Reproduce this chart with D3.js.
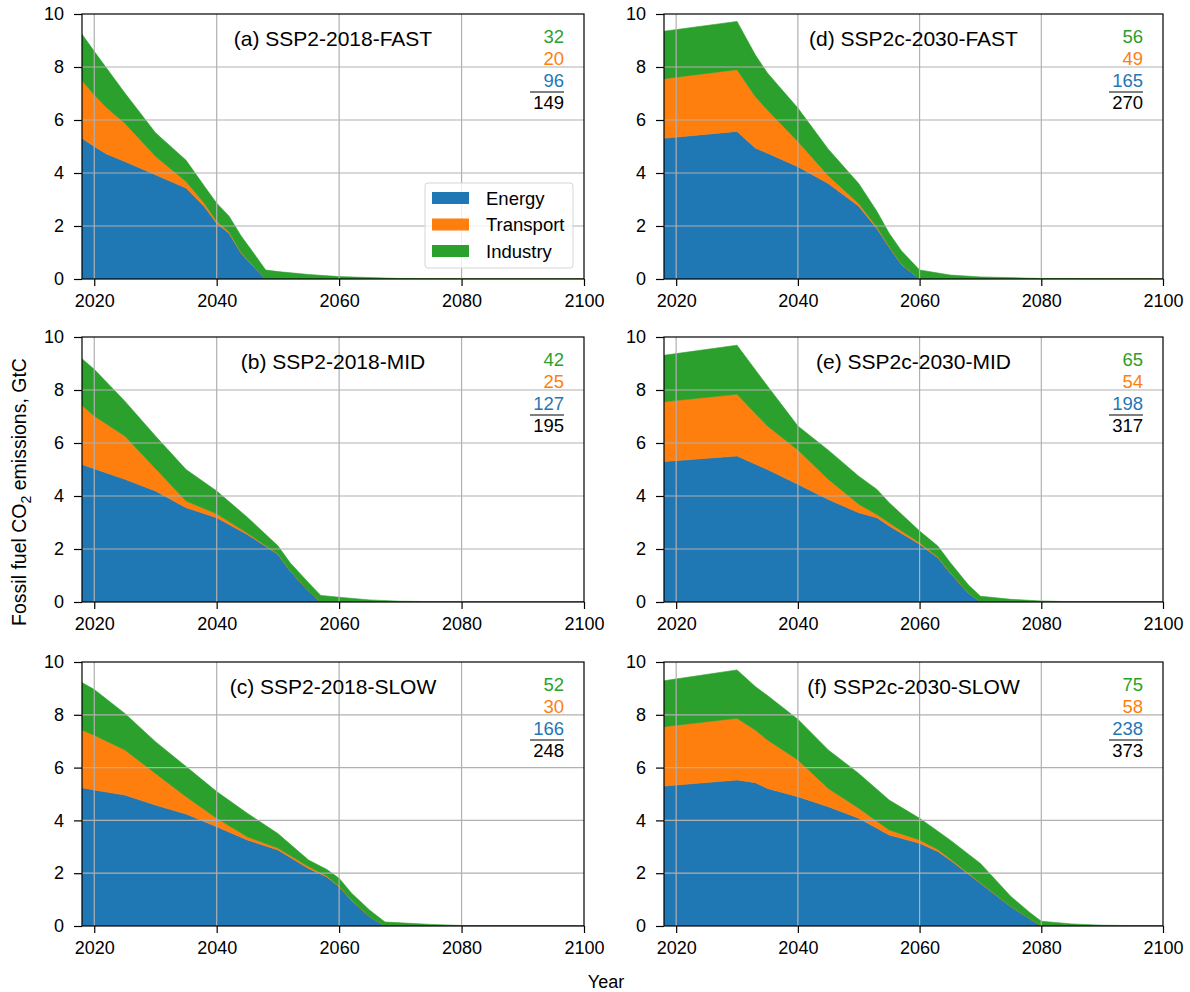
<!DOCTYPE html>
<html lang="en">
<head>
<meta charset="UTF-8">
<title>Fossil fuel CO2 emissions by sector</title>
<script src="https://d3js.org/d3.v7.min.js"></script>
<style>
  body { margin: 0; background: #fff; }
  svg { font-family: "Liberation Sans", Arial, sans-serif; }
  .grid line { stroke: #b0b0b0; stroke-width: 1.2; }
  .axis path, .axis line { stroke: #000; stroke-width: 1.2; }
  .axis text { font-size: 18px; fill: #000; }
</style>
</head>
<body>
<svg width="1190" height="992"></svg>
<script>
// sector values per scenario, GtC per year
const yearsA = [2018, 2020, 2022, 2025, 2030, 2035, 2038, 2040, 2042, 2044, 2046, 2048, 2050, 2055, 2060, 2070, 2080, 2100];
const energyA = [5.31, 5.00, 4.72, 4.43, 3.93, 3.43, 2.73, 2.10, 1.73, 0.97, 0.47, 0, 0, 0, 0, 0, 0, 0];
const transportA = [2.18, 1.95, 1.75, 1.45, 0.70, 0.25, 0.12, 0.08, 0.05, 0.03, 0.02, 0, 0, 0, 0, 0, 0, 0];
const industryA = [1.75, 1.64, 1.49, 1.14, 0.89, 0.80, 0.65, 0.68, 0.60, 0.62, 0.50, 0.34, 0.28, 0.17, 0.09, 0.02, 0, 0];

const yearsB = [2018, 2020, 2025, 2030, 2035, 2040, 2045, 2050, 2052, 2055, 2057, 2060, 2065, 2070, 2080, 2100];
const energyB = [5.19, 5.03, 4.63, 4.19, 3.56, 3.18, 2.55, 1.80, 1.17, 0.42, 0, 0, 0, 0, 0, 0];
const transportB = [2.23, 1.99, 1.63, 0.85, 0.25, 0.15, 0.05, 0.02, 0.01, 0, 0, 0, 0, 0, 0, 0];
const industryB = [1.76, 1.76, 1.32, 1.22, 1.19, 0.86, 0.60, 0.30, 0.30, 0.31, 0.25, 0.18, 0.08, 0.03, 0, 0];

const yearsC = [2018, 2020, 2025, 2030, 2035, 2040, 2045, 2050, 2055, 2058, 2060, 2062, 2065, 2067.5, 2070, 2075, 2080, 2100];
const energyC = [5.24, 5.15, 4.96, 4.58, 4.24, 3.76, 3.26, 2.88, 2.18, 1.86, 1.49, 0.98, 0.35, 0, 0, 0, 0, 0];
const transportC = [2.18, 2.08, 1.71, 1.20, 0.66, 0.32, 0.12, 0.07, 0.07, 0.03, 0.02, 0.01, 0, 0, 0, 0, 0, 0];
const industryC = [1.80, 1.73, 1.38, 1.20, 1.14, 1.01, 0.89, 0.55, 0.25, 0.25, 0.30, 0.26, 0.25, 0.15, 0.12, 0.06, 0.02, 0];

const yearsD = [2018, 2030, 2033, 2035, 2040, 2045, 2050, 2053, 2055, 2057, 2060, 2065, 2070, 2080, 2100];
const energyD = [5.31, 5.57, 4.94, 4.75, 4.24, 3.60, 2.75, 1.90, 1.20, 0.55, 0, 0, 0, 0, 0];
const transportD = [2.25, 2.33, 1.95, 1.63, 0.95, 0.30, 0.10, 0.05, 0.03, 0.02, 0, 0, 0, 0, 0];
const industryD = [1.79, 1.82, 1.57, 1.39, 1.26, 1.00, 0.75, 0.60, 0.50, 0.50, 0.34, 0.15, 0.08, 0.02, 0];

const yearsE = [2018, 2030, 2035, 2040, 2045, 2050, 2053, 2055, 2060, 2063, 2065, 2068, 2070, 2075, 2080, 2085, 2100];
const energyE = [5.30, 5.51, 5.00, 4.44, 3.87, 3.37, 3.18, 2.87, 2.18, 1.67, 1.10, 0.34, 0, 0, 0, 0, 0];
const transportE = [2.26, 2.33, 1.64, 1.30, 0.76, 0.32, 0.12, 0.12, 0.06, 0.03, 0.02, 0.01, 0, 0, 0, 0, 0];
const industryE = [1.75, 1.85, 1.51, 0.90, 1.10, 1.06, 0.95, 0.76, 0.44, 0.41, 0.38, 0.30, 0.22, 0.10, 0.04, 0.01, 0];

const yearsF = [2018, 2030, 2033, 2035, 2040, 2045, 2050, 2055, 2060, 2063, 2065, 2070, 2075, 2078, 2080, 2085, 2090, 2100];
const energyF = [5.30, 5.53, 5.43, 5.21, 4.90, 4.52, 4.08, 3.45, 3.13, 2.82, 2.50, 1.62, 0.73, 0.29, 0, 0, 0, 0];
const transportF = [2.25, 2.34, 1.99, 1.84, 1.39, 0.69, 0.38, 0.19, 0.13, 0.08, 0.05, 0.02, 0.01, 0, 0, 0, 0, 0];
const industryF = [1.74, 1.83, 1.65, 1.68, 1.54, 1.46, 1.32, 1.13, 0.82, 0.69, 0.71, 0.73, 0.38, 0.24, 0.18, 0.08, 0.03, 0];

// panel titles and cumulative totals, GtC
const titles = ["(a) SSP2-2018-FAST", "(b) SSP2-2018-MID", "(c) SSP2-2018-SLOW",
                "(d) SSP2c-2030-FAST", "(e) SSP2c-2030-MID", "(f) SSP2c-2030-SLOW"];
const energyTotals = [96, 127, 166, 165, 198, 238];
const transportTotals = [20, 25, 30, 49, 54, 58];
const industryTotals = [32, 42, 52, 56, 65, 75];
const grandTotals = [149, 195, 248, 270, 317, 373];

const sectors = ["Energy", "Transport", "Industry"];
const colors = ["#1f77b4", "#ff7f0e", "#2ca02c"];
const xTicks = [2020, 2040, 2060, 2080, 2100];
const yTicks = [0, 2, 4, 6, 8, 10];

const series = [
  [yearsA, energyA, transportA, industryA],
  [yearsB, energyB, transportB, industryB],
  [yearsC, energyC, transportC, industryC],
  [yearsD, energyD, transportD, industryD],
  [yearsE, energyE, transportE, industryE],
  [yearsF, energyF, transportF, industryF]
];

const svg = d3.select("svg");
const cols = [[82, 584], [664, 1163]];
const rows = [[14, 279], [337, 602], [662, 926]];

const color = d3.scaleOrdinal().domain(sectors).range(colors);

function drawPanel(i) {
  const [x0, x1] = cols[Math.floor(i / 3)];
  const [y0, y1] = rows[i % 3];
  const [yrs, en, tr, ind] = series[i];

  const x = d3.scaleLinear().domain([2018, 2100]).range([x0, x1]);
  const y = d3.scaleLinear().domain([0, 10]).range([y1, y0]);

  const table = yrs.map((yr, k) => ({ year: yr, Energy: en[k], Transport: tr[k], Industry: ind[k] }));
  const stacked = d3.stack().keys(sectors)(table);

  const g = svg.append("g");

  g.append("defs").append("clipPath").attr("id", "clip" + i)
    .append("rect").attr("x", x0).attr("y", y0).attr("width", x1 - x0).attr("height", y1 - y0);

  const area = d3.area()
    .x(d => x(d.data.year))
    .y0(d => y(d[0]))
    .y1(d => y(d[1]));

  g.append("g").attr("clip-path", `url(#clip${i})`)
    .selectAll("path")
    .data(stacked)
    .join("path")
    .attr("fill", d => color(d.key))
    .attr("stroke", d => color(d.key))
    .attr("stroke-width", 0.6)
    .attr("d", area);

  // grid sits above the areas, as in the original
  g.append("g").attr("class", "grid")
    .selectAll("line.v").data(xTicks.slice(0, -1)).join("line")
    .attr("x1", d => x(d)).attr("x2", d => x(d)).attr("y1", y0).attr("y2", y1);
  g.append("g").attr("class", "grid")
    .selectAll("line.h").data(yTicks.slice(1, -1)).join("line")
    .attr("x1", x0).attr("x2", x1).attr("y1", d => y(d)).attr("y2", d => y(d));

  // frame
  g.append("rect").attr("x", x0).attr("y", y0).attr("width", x1 - x0).attr("height", y1 - y0)
    .attr("fill", "none").attr("stroke", "#000").attr("stroke-width", 1.2);

  g.append("g").attr("class", "axis")
    .attr("transform", `translate(0,${y1})`)
    .call(d3.axisBottom(x).tickValues(xTicks).tickFormat(d3.format("d")).tickSize(7).tickPadding(8).tickSizeOuter(0))
    .call(a => a.select(".domain").remove());
  g.append("g").attr("class", "axis")
    .attr("transform", `translate(${x0},0)`)
    .call(d3.axisLeft(y).tickValues(yTicks).tickSize(8).tickPadding(10).tickSizeOuter(0))
    .call(a => a.select(".domain").remove());

  g.append("text")
    .attr("x", (x0 + x1) / 2).attr("y", y0 + 32)
    .attr("text-anchor", "middle")
    .attr("font-size", 21)
    .text(titles[i]);

  const nx = x1 - 20;
  const nums = [[industryTotals[i], colors[2]], [transportTotals[i], colors[1]], [energyTotals[i], colors[0]]];
  g.selectAll("text.num").data(nums).join("text")
    .attr("class", "num")
    .attr("x", nx).attr("y", (d, k) => y0 + 29 + k * 22)
    .attr("text-anchor", "end").attr("font-size", 18.5)
    .attr("fill", d => d[1])
    .text(d => d[0]);
  g.append("line")
    .attr("x1", nx - 34).attr("x2", nx).attr("y1", y0 + 78).attr("y2", y0 + 78)
    .attr("stroke", "#000").attr("stroke-width", 1.2);
  g.append("text")
    .attr("x", nx).attr("y", y0 + 95)
    .attr("text-anchor", "end").attr("font-size", 18.5)
    .text(grandTotals[i]);

  if (i === 0) {
    const lg = g.append("g");
    lg.append("rect").attr("x", 425).attr("y", 183).attr("width", 148).attr("height", 85)
      .attr("rx", 3).attr("fill", "#fff").attr("fill-opacity", 0.8)
      .attr("stroke", "#d6d6d6").attr("stroke-width", 1);
    sectors.forEach((s, k) => {
      const cy = 198 + k * 26.5;
      lg.append("rect").attr("x", 432).attr("y", cy - 6).attr("width", 37).attr("height", 12)
        .attr("fill", color(s));
      lg.append("text").attr("x", 486).attr("y", cy + 6.5).attr("font-size", 18.5).text(s);
    });
  }
}

d3.range(6).forEach(drawPanel);

// shared axis labels
const ylab = svg.append("text")
  .attr("transform", "translate(26,492) rotate(-90)")
  .attr("text-anchor", "middle")
  .attr("font-size", 19.5);
ylab.append("tspan").text("Fossil fuel CO");
ylab.append("tspan").attr("dy", 5).attr("font-size", 14).text("2");
ylab.append("tspan").attr("dy", -5).text(" emissions, GtC");

svg.append("text")
  .attr("x", 606).attr("y", 988)
  .attr("text-anchor", "middle")
  .attr("font-size", 18)
  .text("Year");
</script>
</body>
</html>
